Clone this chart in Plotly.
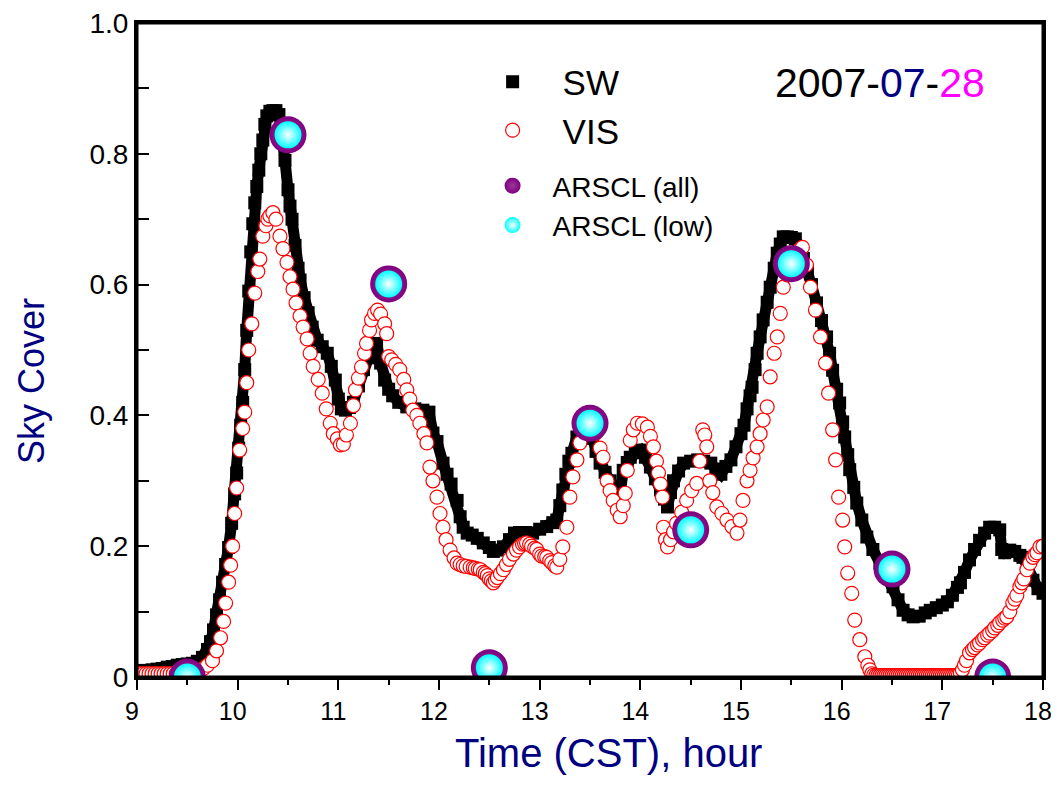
import plotly.graph_objects as go

# ---- data ----
sw_t = [9.00, 9.05, 9.10, 9.15, 9.20, 9.25, 9.30, 9.35, 9.40, 9.45, 9.50, 9.55, 9.60, 9.65, 9.70,
        9.73, 9.76, 9.79, 9.82, 9.85, 9.88, 9.91, 9.94, 9.97, 9.99, 10.01, 10.03, 10.05, 10.07, 10.09,
        10.11, 10.13, 10.15, 10.17, 10.19, 10.21, 10.23, 10.25, 10.27, 10.29, 10.32, 10.35, 10.38, 10.41,
        10.44, 10.47, 10.50, 10.52, 10.54, 10.57, 10.60, 10.62, 10.66, 10.70, 10.74, 10.79, 10.84, 10.89,
        10.93, 10.97, 11.00, 11.03, 11.07, 11.11, 11.15, 11.20, 11.25, 11.30, 11.35, 11.38, 11.42, 11.46,
        11.50, 11.54, 11.60, 11.68, 11.76, 11.84, 11.90, 11.94, 11.98, 12.04, 12.08, 12.12, 12.18, 12.21,
        12.24, 12.28, 12.33, 12.38, 12.44, 12.50, 12.54, 12.58, 12.64, 12.70, 12.75, 12.80, 12.86, 12.93,
        13.00, 13.07, 13.13, 13.17, 13.20, 13.23, 13.26, 13.29, 13.32, 13.37, 13.42, 13.47, 13.52, 13.56,
        13.60, 13.65, 13.70, 13.75, 13.80, 13.83, 13.87, 13.90, 13.95, 14.00, 14.05, 14.10, 14.15, 14.20,
        14.24, 14.27, 14.30, 14.33, 14.38, 14.43, 14.50, 14.57, 14.63, 14.70, 14.75, 14.80, 14.85, 14.90,
        14.95, 15.00, 15.03, 15.06, 15.09, 15.11, 15.14, 15.16, 15.19, 15.22, 15.26, 15.29, 15.33, 15.36,
        15.39, 15.42, 15.46, 15.50, 15.54, 15.58, 15.62, 15.66, 15.70, 15.75, 15.80, 15.85, 15.88, 15.91,
        15.95, 15.98, 16.01, 16.03, 16.06, 16.08, 16.12, 16.15, 16.20, 16.25, 16.31, 16.38, 16.45, 16.51,
        16.56, 16.61, 16.66, 16.71, 16.77, 16.83, 16.88, 16.94, 17.00, 17.05, 17.10, 17.15, 17.18, 17.22,
        17.27, 17.32, 17.37, 17.42, 17.47, 17.52, 17.57, 17.59, 17.62, 17.67, 17.72, 17.77, 17.80, 17.85,
        17.90, 17.95, 18.00]
sw_v = [0.010, 0.010, 0.010, 0.011, 0.012, 0.013, 0.015, 0.016, 0.018, 0.019, 0.020, 0.021, 0.024, 0.030, 0.042,
        0.054, 0.072, 0.095, 0.118, 0.145, 0.172, 0.198, 0.235, 0.280, 0.312, 0.350, 0.385, 0.420, 0.470, 0.530,
        0.590, 0.650, 0.693, 0.725, 0.750, 0.775, 0.800, 0.821, 0.845, 0.858, 0.865, 0.866, 0.866, 0.860,
        0.835, 0.790, 0.745, 0.720, 0.700, 0.660, 0.625, 0.607, 0.580, 0.557, 0.535, 0.515, 0.505, 0.495,
        0.475, 0.454, 0.425, 0.410, 0.408, 0.412, 0.420, 0.445, 0.470, 0.488, 0.500, 0.510, 0.480, 0.454,
        0.440, 0.430, 0.420, 0.413, 0.410, 0.408, 0.405, 0.373, 0.360, 0.327, 0.310, 0.295, 0.270, 0.245,
        0.229, 0.220, 0.217, 0.212, 0.205, 0.198, 0.192, 0.194, 0.199, 0.210, 0.220, 0.221, 0.221, 0.220,
        0.226, 0.230, 0.236, 0.240, 0.262, 0.286, 0.310, 0.330, 0.342, 0.367, 0.372, 0.373, 0.365, 0.345,
        0.327, 0.313, 0.300, 0.290, 0.280, 0.316, 0.328, 0.336, 0.343, 0.347, 0.336, 0.321, 0.303, 0.286,
        0.272, 0.260, 0.282, 0.300, 0.315, 0.327, 0.330, 0.332, 0.330, 0.327, 0.318, 0.310, 0.322, 0.332,
        0.352, 0.372, 0.385, 0.410, 0.430, 0.443, 0.470, 0.495, 0.520, 0.546, 0.573, 0.596, 0.625, 0.648,
        0.662, 0.673, 0.673, 0.672, 0.670, 0.655, 0.640, 0.622, 0.600, 0.572, 0.545, 0.520, 0.495, 0.469,
        0.440, 0.419, 0.390, 0.367, 0.340, 0.317, 0.290, 0.266, 0.240, 0.214, 0.195, 0.174, 0.155, 0.138,
        0.118, 0.102, 0.095, 0.092, 0.093, 0.098, 0.102, 0.106, 0.110, 0.115, 0.125, 0.137, 0.144, 0.160,
        0.179, 0.195, 0.209, 0.220, 0.229, 0.229, 0.225, 0.195, 0.190, 0.194, 0.192, 0.186, 0.183, 0.165,
        0.148, 0.135, 0.128]

vis_t = [9.00, 9.03, 9.06, 9.09, 9.12, 9.15, 9.18, 9.21, 9.24, 9.27, 9.30, 9.33, 9.36, 9.39, 9.42,
         9.45, 9.48, 9.51, 9.54, 9.57, 9.60, 9.63, 9.66, 9.70,
         9.75, 9.79, 9.83, 9.86, 9.88, 9.91, 9.93, 9.95, 9.97, 9.99, 10.02, 10.05, 10.07, 10.09, 10.11,
         10.14, 10.17, 10.20, 10.22, 10.25, 10.28, 10.30, 10.32, 10.35, 10.38, 10.42, 10.45, 10.49, 10.52, 10.55,
         10.58, 10.62, 10.65, 10.69, 10.72, 10.75, 10.80, 10.84, 10.88, 10.92, 10.95, 10.99, 11.02, 11.05,
         11.08, 11.12, 11.15, 11.17, 11.20, 11.23, 11.26, 11.28, 11.31, 11.33, 11.36, 11.39, 11.42, 11.46,
         11.48, 11.50, 11.53, 11.57, 11.61, 11.65, 11.68, 11.71, 11.74, 11.78, 11.81, 11.85, 11.88, 11.91,
         11.94, 11.98, 12.01, 12.04, 12.07, 12.11, 12.15, 12.18, 12.21, 12.24, 12.27, 12.31, 12.34, 12.36,
         12.39, 12.41, 12.44, 12.46, 12.48, 12.50, 12.52,
         12.54, 12.56, 12.58, 12.61, 12.64, 12.67, 12.70, 12.74, 12.77, 12.80, 12.83, 12.85, 12.87, 12.90,
         12.92, 12.95, 12.97, 13.00, 13.02, 13.05, 13.07, 13.10, 13.12, 13.15, 13.17, 13.20,
         13.23, 13.27, 13.30, 13.33, 13.37, 13.40, 13.45, 13.50, 13.55, 13.60, 13.63, 13.67, 13.70, 13.73,
         13.77, 13.80, 13.83, 13.85, 13.87, 13.90, 13.93, 13.97, 14.02, 14.07, 14.10, 14.13, 14.16, 14.18,
         14.20, 14.22, 14.23, 14.25, 14.27, 14.30, 14.33, 14.36, 14.41, 14.46, 14.51, 14.56, 14.59, 14.62,
         14.64, 14.66, 14.69, 14.72, 14.76, 14.81, 14.86, 14.91, 14.96, 14.99, 15.02, 15.06, 15.09, 15.12,
         15.16, 15.19, 15.22, 15.26, 15.29, 15.33, 15.36, 15.39, 15.42, 15.46, 15.50, 15.54, 15.58, 15.61,
         15.65, 15.69, 15.74, 15.79, 15.84, 15.87, 15.91, 15.94, 15.97, 16.01, 16.03, 16.06, 16.10, 16.13,
         16.18, 16.23, 16.26, 16.28, 16.30, 16.32, 16.34, 16.36, 16.38, 16.40, 16.42, 16.44, 16.46, 16.48,
         16.50, 16.52, 16.54, 16.56, 16.58, 16.60, 16.62, 16.64, 16.66, 16.68, 16.70, 16.72, 16.74, 16.76,
         16.78, 16.80, 16.82, 16.84, 16.86, 16.88, 16.90, 16.92, 16.94, 16.96, 16.98, 17.00, 17.02, 17.04,
         17.06, 17.08, 17.10, 17.12, 17.14, 17.16, 17.18, 17.20, 17.22, 17.24, 17.27,
         17.30, 17.32, 17.35, 17.37, 17.40, 17.42, 17.45, 17.47, 17.50, 17.52, 17.55, 17.57, 17.60, 17.62,
         17.64, 17.67, 17.70, 17.72, 17.74, 17.77, 17.79, 17.81, 17.84, 17.87,
         17.90, 17.92, 17.94, 17.97, 18.00]
vis_v = [0.005, 0.005, 0.005, 0.005, 0.005, 0.005, 0.005, 0.005, 0.005, 0.005, 0.005, 0.005, 0.005, 0.005, 0.005,
         0.005, 0.005, 0.005, 0.006, 0.007, 0.008, 0.010, 0.013, 0.018,
         0.025, 0.040, 0.060, 0.085, 0.113, 0.145, 0.171, 0.200, 0.250, 0.289, 0.347, 0.380, 0.405, 0.450, 0.500,
         0.540, 0.587, 0.620, 0.639, 0.674, 0.690, 0.700, 0.705, 0.710, 0.700, 0.674, 0.655, 0.634, 0.612, 0.593,
         0.572, 0.552, 0.535, 0.517, 0.495, 0.475, 0.455, 0.434, 0.410, 0.388, 0.372, 0.364, 0.355, 0.356,
         0.370, 0.388, 0.415, 0.439, 0.457, 0.474, 0.495, 0.510, 0.530, 0.546, 0.556, 0.561, 0.555, 0.540,
         0.525, 0.490, 0.485, 0.478, 0.470, 0.455, 0.439, 0.425, 0.408, 0.400, 0.388, 0.372, 0.358, 0.321,
         0.300, 0.275, 0.250, 0.229, 0.210, 0.194, 0.182, 0.174, 0.172, 0.170, 0.169, 0.168, 0.167, 0.166,
         0.165, 0.164, 0.160, 0.158, 0.155, 0.150, 0.147,
         0.144, 0.148, 0.152, 0.158, 0.164, 0.172, 0.180, 0.188, 0.194, 0.199, 0.203, 0.204, 0.205, 0.203,
         0.200, 0.197, 0.195, 0.188, 0.185, 0.184, 0.183, 0.178, 0.175, 0.170, 0.168, 0.180,
         0.199, 0.229, 0.275, 0.306, 0.332, 0.358, 0.375, 0.385, 0.372, 0.350, 0.336, 0.300, 0.285, 0.270,
         0.255, 0.245, 0.262, 0.281, 0.316, 0.362, 0.378, 0.388, 0.387, 0.382, 0.368, 0.352, 0.330, 0.312,
         0.295, 0.275, 0.229, 0.210, 0.199, 0.210, 0.222, 0.235, 0.252, 0.270, 0.285, 0.296, 0.330, 0.378,
         0.370, 0.352, 0.300, 0.282, 0.260, 0.250, 0.240, 0.230, 0.220, 0.240, 0.270, 0.300, 0.316, 0.335,
         0.352, 0.372, 0.393, 0.413, 0.459, 0.495, 0.520, 0.556, 0.596, 0.615, 0.632, 0.645, 0.653, 0.657,
         0.630, 0.596, 0.561, 0.520, 0.480, 0.434, 0.378, 0.332, 0.275, 0.240, 0.199, 0.159, 0.128, 0.087,
         0.057, 0.031, 0.018, 0.011, 0.005, 0.003, 0.002, 0.002, 0.002, 0.002, 0.002, 0.002, 0.002, 0.002,
         0.002, 0.002, 0.002, 0.002, 0.002, 0.002, 0.002, 0.002, 0.002, 0.002, 0.002, 0.002, 0.002, 0.002,
         0.002, 0.002, 0.002, 0.002, 0.002, 0.002, 0.002, 0.002, 0.002, 0.002, 0.002, 0.002, 0.002, 0.002,
         0.002, 0.002, 0.002, 0.002, 0.002, 0.003, 0.006, 0.011, 0.018, 0.025, 0.037,
         0.042, 0.045, 0.049, 0.052, 0.057, 0.060, 0.064, 0.067, 0.071, 0.075, 0.079, 0.083, 0.087, 0.090,
         0.092, 0.100, 0.113, 0.119, 0.125, 0.138, 0.144, 0.150, 0.164, 0.174,
         0.183, 0.187, 0.190, 0.199, 0.200]

arscl_t = [9.5, 10.5, 11.5, 12.5, 13.5, 14.5, 15.5, 16.5, 17.5]
arscl_all = [0.0, 0.829, 0.601, 0.014, 0.388, 0.225, 0.632, 0.165, 0.0]
arscl_low = [0.0, 0.829, 0.601, 0.014, 0.388, 0.225, 0.632, 0.165, 0.0]

y_tickvals = [0, 0.2, 0.4, 0.6, 0.8, 1.0]
y_ticktext = ["0", "0.2", "0.4", "0.6", "0.8", "1.0"]

FONT = "Liberation Sans, Arial, sans-serif"
NAVY = "#000080"

fig = go.Figure()
# thick band joining the SW samples (as in the dense original series)
fig.add_trace(go.Scatter(
    x=sw_t, y=sw_v, mode="lines", showlegend=False, hoverinfo="skip",
    line=dict(color="black", width=11)))
fig.add_trace(go.Scatter(
    x=sw_t, y=sw_v, mode="markers", name="SW", legend="legend",
    marker=dict(symbol="square", size=13, color="black", line=dict(width=0))))
fig.add_trace(go.Scatter(
    x=vis_t, y=vis_v, mode="markers", name="VIS", legend="legend",
    marker=dict(symbol="circle", size=14, color="white", line=dict(color="red", width=1.2))))
fig.add_trace(go.Scatter(
    x=arscl_t, y=arscl_all, mode="markers", name="ARSCL (all)", legend="legend2",
    marker=dict(symbol="circle", size=37, color="#800080", line=dict(width=0),
                gradient=dict(type="radial", color="#9a3a9a"))))
fig.add_trace(go.Scatter(
    x=arscl_t, y=arscl_low, mode="markers", name="ARSCL (low)", legend="legend2",
    marker=dict(symbol="circle", size=27, color="#00FFFF", line=dict(width=0),
                gradient=dict(type="radial", color="white"))))

# the page body adds an 8 px margin on every side; size the figure so no scrollbars appear
fig.update_layout(
    width=1045, height=769,
    margin=dict(l=129, r=10, t=15, b=100, autoexpand=False),
    paper_bgcolor="white", plot_bgcolor="white",
    font=dict(family=FONT, color="black"),
    legend=dict(x=0.3594, y=0.955, xanchor="left", yanchor="top",
                font=dict(size=35, family=FONT, color="black"),
                itemwidth=90, bgcolor="rgba(0,0,0,0)", tracegroupgap=0),
    legend2=dict(x=0.3704, y=0.789, xanchor="left", yanchor="top",
                 font=dict(size=28, family=FONT, color="black"),
                 itemwidth=70, bgcolor="rgba(0,0,0,0)", tracegroupgap=0),
    xaxis=dict(range=[9, 18], dtick=1, tick0=9, showgrid=False, zeroline=False, automargin=False,
               showline=True, linecolor="black", linewidth=3, mirror=True,
               ticks="outside", ticklen=10, tickwidth=2, tickcolor="black",
               ticklabeloverflow="allow", ticklabelshift=-5,
               minor=dict(dtick=0.5, ticks="outside", ticklen=5, tickwidth=2, tickcolor="black"),
               tickfont=dict(size=25, family=FONT, color="black")),
    yaxis=dict(range=[0, 1], tickvals=y_tickvals, ticktext=y_ticktext, showgrid=False, zeroline=False,
               automargin=False, showline=True, linecolor="black", linewidth=3, mirror=True,
               ticks="inside", ticklen=12, tickwidth=2, tickcolor="black", ticklabelstandoff=0,
               ticklabeloverflow="allow",
               minor=dict(dtick=0.1, tick0=0, ticks="inside", ticklen=12, tickwidth=2, tickcolor="black"),
               tickfont=dict(size=28, family=FONT, color="black")),
    shapes=[dict(type="rect", xref="paper", yref="paper", x0=0, x1=1, y0=0, y1=1,
                 line=dict(color="black", width=3), fillcolor="rgba(0,0,0,0)", layer="above")],
    annotations=[
        dict(text="2007-<span style='color:#000080'>07</span>-<span style='color:#FF00FF'>28</span>",
             xref="paper", yref="paper", x=(773 - 137) / 906, y=(677 - 83) / 654,
             xanchor="left", yanchor="middle", showarrow=False,
             font=dict(size=41, family=FONT, color="black")),
        dict(text="Time (CST), hour", xref="paper", yref="paper",
             x=(608 - 137) / 906, y=(677 - 753) / 654, xanchor="center", yanchor="middle",
             showarrow=False, font=dict(size=40, family=FONT, color=NAVY)),
        dict(text="Sky Cover", xref="paper", yref="paper", textangle=-90,
             x=(31 - 137) / 906, y=(677 - 381) / 654, xanchor="center", yanchor="middle",
             showarrow=False, font=dict(size=36, family=FONT, color=NAVY)),
    ],
)

fig.write_html("out.html")
